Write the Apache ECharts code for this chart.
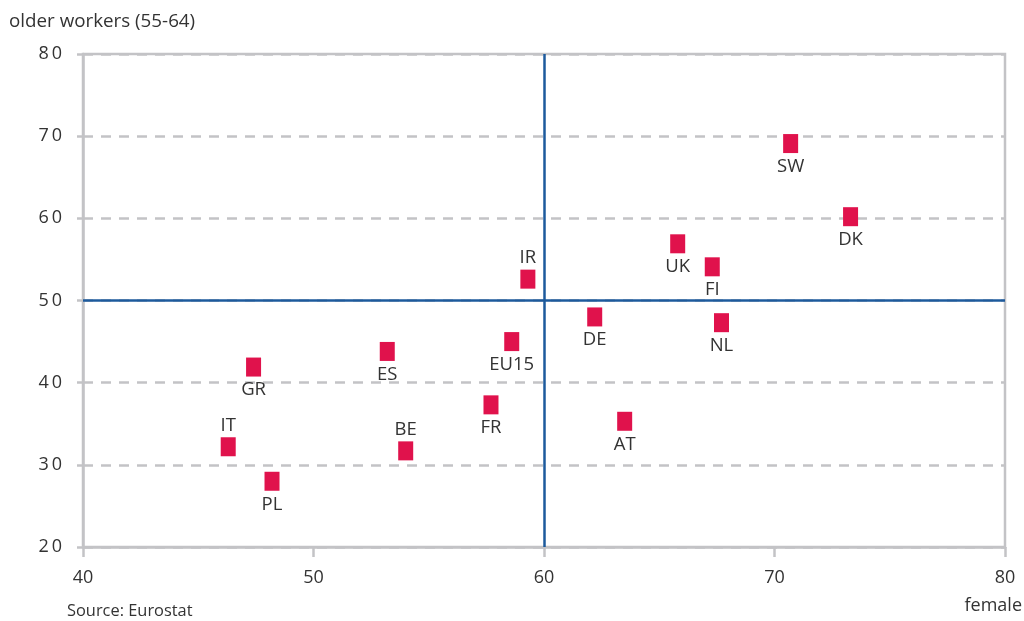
<!DOCTYPE html>
<html>
<head>
<meta charset="utf-8">
<script src="https://cdn.jsdelivr.net/npm/echarts@6/dist/echarts.min.js"></script>
<style>
  html, body { margin: 0; padding: 0; background: #fff; }
  #chart { width: 1024px; height: 621px; }
</style>
</head>
<body>
<div id="chart"></div>
<script>
// Employment rates by country: female (x) vs older workers 55-64 (y)
const countries   = ['IT', 'GR', 'PL', 'ES', 'BE', 'FR', 'EU15', 'IR', 'DE', 'AT', 'UK', 'FI', 'NL', 'SW', 'DK'];
const femaleRate  = [46.3, 47.4, 48.2, 53.2, 54.0, 57.7, 58.6, 59.3, 62.2, 63.5, 65.8, 67.3, 67.7, 70.7, 73.3];
const olderRate   = [32.2, 41.9, 28.0, 43.8, 31.7, 37.3, 45.0, 52.6, 48.0, 35.3, 56.9, 54.1, 47.3, 69.1, 60.2];
const labelSide   = ['top', 'bottom', 'bottom', 'bottom', 'top', 'bottom', 'bottom', 'top', 'bottom', 'bottom', 'bottom', 'bottom', 'bottom', 'bottom', 'bottom'];
const xTicks = [40, 50, 60, 70, 80];
const yTicks = [20, 30, 40, 50, 60, 70, 80];
const refFemale = 60;
const refOlder = 50;

const FONT = "'Open Sans', 'Noto Sans', sans-serif";
const TEXT = '#333333';
const GRAY = '#c3c3c6';
const BLUE = '#1d5a9c';
const RED = '#e0124c';

const points = countries.map((c, i) => ({
  name: c,
  value: [femaleRate[i], olderRate[i]],
  label: {
    position: labelSide[i],
    distance: labelSide[i] === 'top' ? 2 : 4
  }
}));

const chart = echarts.init(document.getElementById('chart'), null, { renderer: 'canvas' });

chart.setOption({
  animation: false,
  backgroundColor: '#fff',
  grid: {
    left: 83, right: 19, top: 54, bottom: 74,
    show: true, borderColor: GRAY, borderWidth: 2.5, backgroundColor: 'transparent'
  },
  xAxis: {
    type: 'value',
    min: xTicks[0], max: xTicks[xTicks.length - 1], interval: 10,
    axisLine: { show: true, lineStyle: { color: GRAY, width: 2.5 } },
    axisTick: { show: true, length: 10, lineStyle: { color: GRAY, width: 2.5 } },
    axisLabel: { fontFamily: FONT, fontSize: 18, color: TEXT, margin: 22 },
    splitLine: { show: false }
  },
  yAxis: {
    type: 'value',
    min: yTicks[0], max: yTicks[yTicks.length - 1], interval: 10,
    axisLine: { show: true, lineStyle: { color: GRAY, width: 2.5 } },
    axisTick: { show: true, length: 6, lineStyle: { color: GRAY, width: 2.5 } },
    axisLabel: {
      fontFamily: FONT, fontSize: 18, color: TEXT, margin: 21,
      formatter: v => String(v).split('').join('\u2009')
    },
    splitLine: { show: true, lineStyle: { color: GRAY, width: 2.5, type: [10, 8] } }
  },
  graphic: [
    { type: 'text', left: 9, top: 12,
      style: { text: 'older workers (55-64)', fontFamily: FONT, fontSize: 18.8, fill: TEXT } },
    { type: 'text', right: 2, top: 597,
      style: { text: 'female', fontFamily: FONT, fontSize: 18, fill: TEXT } },
    { type: 'text', left: 67, top: 603,
      style: { text: 'Source: Eurostat', fontFamily: FONT, fontSize: 16.4, fill: TEXT } }
  ],
  series: [{
    type: 'scatter',
    symbol: 'rect',
    symbolSize: [15, 19],
    itemStyle: { color: RED, opacity: 1 },
    data: points,
    label: {
      show: true,
      formatter: p => p.name,
      fontFamily: FONT, fontSize: 18.5, color: TEXT
    },
    markLine: {
      silent: true,
      symbol: 'none',
      label: { show: false },
      lineStyle: { color: BLUE, width: 2.5, type: 'solid', opacity: 1 },
      data: [{ xAxis: refFemale }, { yAxis: refOlder }]
    },
    z: 5
  }]
});
</script>
</body>
</html>
